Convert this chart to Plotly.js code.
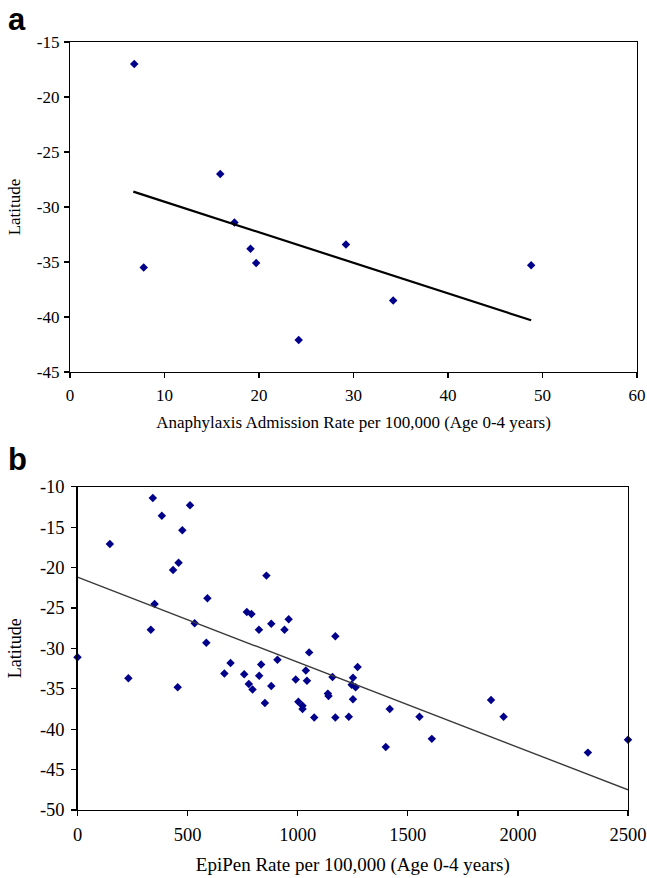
<!DOCTYPE html>
<html>
<head>
<meta charset="utf-8">
<script src="https://cdn.plot.ly/plotly-3.0.1.min.js"></script>
<style>
  html, body { margin: 0; padding: 0; background: #fff; }
  #chart { width: 647px; height: 878px; }
</style>
</head>
<body>
<div id="chart"></div>
<script>
// Panel a: Anaphylaxis admission rate vs latitude
const anaRate = [6.8, 7.8, 15.9, 17.4, 19.1, 19.7, 24.2, 29.2, 34.2, 48.8];
const anaLat  = [-17.0, -35.5, -27.0, -31.4, -33.8, -35.1, -42.1, -33.4, -38.5, -35.3];
const anaTrendX = [6.7, 48.8];
const anaTrendY = [-28.6, -40.3];

// Panel b: EpiPen rate vs latitude
const epiRate = [0, 147, 231, 333, 342, 350, 383, 434, 459, 455, 476, 511, 532, 585, 590,
  667, 695, 757, 769, 790, 778, 795, 824, 825, 834, 851, 858, 880, 880, 908, 940, 959,
  991, 1003, 1022, 1022, 1037, 1042, 1052, 1075, 1137, 1140, 1158, 1171, 1171, 1232,
  1251, 1245, 1251, 1263, 1272, 1400, 1418, 1553, 1609, 1878, 1935, 2318, 2500];
const epiLat = [-31.1, -17.1, -33.7, -27.7, -11.4, -24.5, -13.6, -20.3, -19.4, -34.8, -15.4,
  -12.3, -26.9, -29.3, -23.8, -33.1, -31.8, -33.2, -25.5, -25.75, -34.4, -35.1, -27.7,
  -33.4, -32.0, -36.75, -21.0, -26.95, -34.65, -31.4, -27.7, -26.4, -33.85, -36.6, -37.1,
  -37.5, -32.75, -34.0, -30.5, -38.55, -35.6, -35.9, -33.55, -28.5, -38.55, -38.45,
  -33.65, -34.5, -36.3, -34.8, -32.3, -42.2, -37.5, -38.45, -41.2, -36.4, -38.45, -42.9, -41.3];
const epiTrendX = [0, 2500];
const epiTrendY = [-21.2, -47.5];

const tickA_x = [0, 10, 20, 30, 40, 50, 60];
const tickA_xText = ['0', '10', '20', '30', '40', '50', '60'];
const tickA_y = [-45, -40, -35, -30, -25, -20, -15];
const tickA_yText = ['-45', '-40', '-35', '-30', '-25', '-20', '-15'];
const tickB_x = [0, 500, 1000, 1500, 2000, 2500];
const tickB_xText = ['0', '500', '1000', '1500', '2000', '2500'];
const tickB_y = [-50, -45, -40, -35, -30, -25, -20, -15, -10];
const tickB_yText = ['-50', '-45', '-40', '-35', '-30', '-25', '-20', '-15', '-10'];

const W = 647, H = 878;
const serif = 'Liberation Serif, Times New Roman, serif';
const markerStyle = {symbol: 'diamond', size: 6.5, color: '#00008B', line: {width: 0}};

const traces = [
  {x: anaRate, y: anaLat, type: 'scatter', mode: 'markers', marker: markerStyle,
   xaxis: 'x', yaxis: 'y', cliponaxis: false, showlegend: false},
  {x: anaTrendX, y: anaTrendY, type: 'scatter', mode: 'lines',
   line: {color: '#000', width: 2.2}, xaxis: 'x', yaxis: 'y', showlegend: false},
  {x: epiRate, y: epiLat, type: 'scatter', mode: 'markers', marker: markerStyle,
   xaxis: 'x2', yaxis: 'y2', cliponaxis: false, showlegend: false},
  {x: epiTrendX, y: epiTrendY, type: 'scatter', mode: 'lines',
   line: {color: '#3a3a3a', width: 1.4}, xaxis: 'x2', yaxis: 'y2', cliponaxis: false, showlegend: false}
];

function axisBase(fs, extra) {
  return Object.assign({
    showline: true, mirror: true, linecolor: '#000', linewidth: 1.2,
    showgrid: false, zeroline: false,
    ticks: 'outside', ticklen: 5, tickcolor: '#000', tickwidth: 1.2,
    tickmode: 'array',
    tickfont: {family: serif, size: fs, color: '#000'},
    automargin: false, fixedrange: true
  }, extra);
}

const layout = {
  width: W, height: H,
  margin: {l: 0, r: 0, t: 0, b: 0},
  paper_bgcolor: '#fff', plot_bgcolor: '#fff',
  showlegend: false,
  xaxis: axisBase(17, {domain: [70/W, 637/W], range: [0, 60],
    tickvals: tickA_x, ticktext: tickA_xText, anchor: 'y', ticklabelstandoff: 2,
    title: {text: 'Anaphylaxis Admission Rate per 100,000 (Age 0-4 years)',
            font: {family: serif, size: 17, color: '#000'}, standoff: 12}}),
  yaxis: axisBase(17, {domain: [1 - 372/H, 1 - 42/H], range: [-45, -15],
    tickvals: tickA_y, ticktext: tickA_yText, anchor: 'x', ticklabelstandoff: 1,
    title: {text: 'Latitude', font: {family: serif, size: 17, color: '#000'}, standoff: 11}}),
  xaxis2: axisBase(18.5, {domain: [77.5/W, 628/W], range: [0, 2500],
    tickvals: tickB_x, ticktext: tickB_xText, anchor: 'y2', ticklabelstandoff: 3,
    title: {text: 'EpiPen Rate per 100,000 (Age 0-4 years)',
            font: {family: serif, size: 19, color: '#000'}, standoff: 13}}),
  yaxis2: axisBase(18.5, {domain: [1 - 810/H, 1 - 486.7/H], range: [-50, -10],
    tickvals: tickB_y, ticktext: tickB_yText, anchor: 'x2', ticklabelstandoff: 3,
    title: {text: 'Latitude', font: {family: serif, size: 18, color: '#000'}, standoff: 13}}),
  annotations: [
    {text: '<b>a</b>', xref: 'paper', yref: 'paper', x: 6/W, y: 1 - 20/H,
     xanchor: 'left', yanchor: 'middle', showarrow: false,
     font: {family: 'Liberation Sans, Arial, sans-serif', size: 31, color: '#000'}},
    {text: '<b>b</b>', xref: 'paper', yref: 'paper', x: 6/W, y: 1 - 459/H,
     xanchor: 'left', yanchor: 'middle', showarrow: false,
     font: {family: 'Liberation Sans, Arial, sans-serif', size: 31, color: '#000'}}
  ]
};

Plotly.newPlot('chart', traces, layout, {displayModeBar: false, staticPlot: true});
</script>
</body>
</html>
